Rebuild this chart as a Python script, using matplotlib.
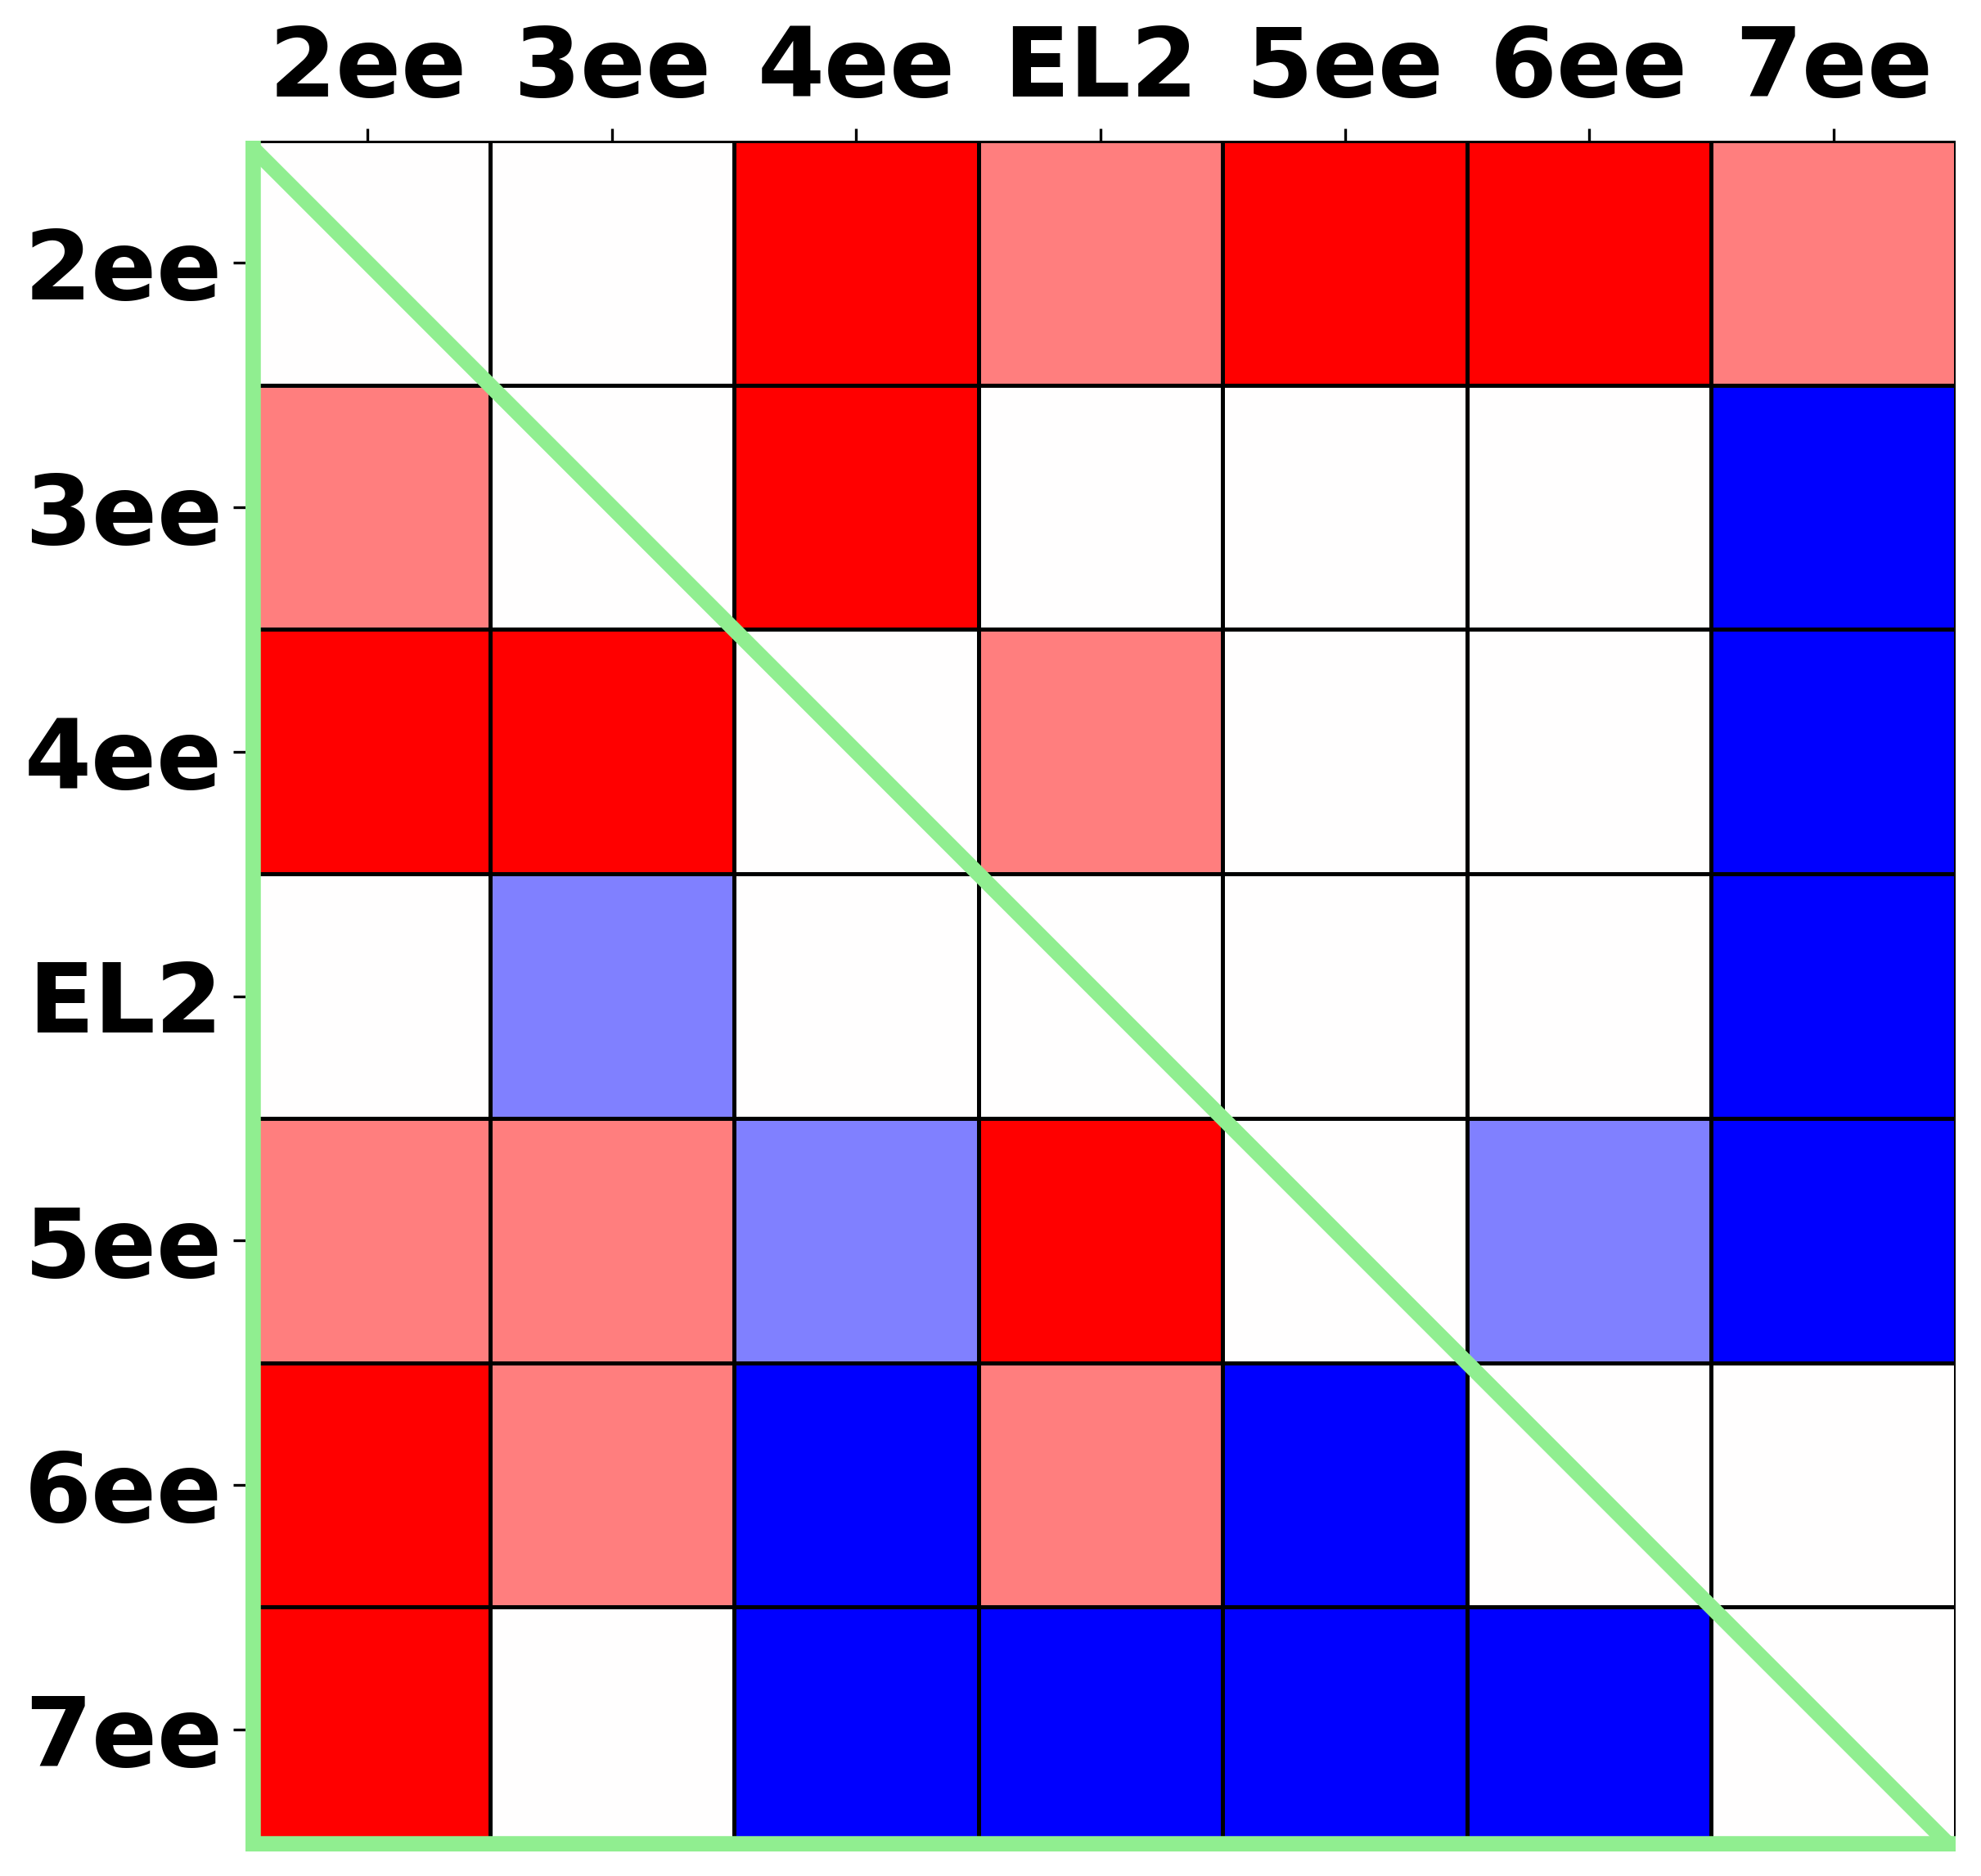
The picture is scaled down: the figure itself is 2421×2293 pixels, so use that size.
import numpy as np
import matplotlib
matplotlib.use("Agg")
import matplotlib.pyplot as plt

labels = ["2ee", "3ee", "4ee", "EL2", "5ee", "6ee", "7ee"]
row_2ee = [0, 0, 1, 0.5, 1, 1, 0.5]
row_3ee = [0.5, 0, 1, 0, 0, 0, -1]
row_4ee = [1, 1, 0, 0.5, 0, 0, -1]
row_EL2 = [0, -0.5, 0, 0, 0, 0, -1]
row_5ee = [0.5, 0.5, -0.5, 1, 0, -0.5, -1]
row_6ee = [1, 0.5, -1, 0.5, -1, 0, 0]
row_7ee = [1, 0, -1, -1, -1, -1, 0]

data = np.array([row_2ee, row_3ee, row_4ee, row_EL2, row_5ee, row_6ee, row_7ee])
n = len(labels)

W, H = 2421, 2293
dpi = 300
fig = plt.figure(figsize=(W / dpi, H / dpi), dpi=dpi)
l, r, t, b = 300, 2390, 172, 2263
ax = fig.add_axes([l / W, 1 - b / H, (r - l) / W, (b - t) / H])

ax.pcolormesh(np.arange(n + 1), np.arange(n + 1), data, cmap="bwr",
              vmin=-1, vmax=1, edgecolors="black", linewidth=0.8)
ax.set_xlim(0, n)
ax.set_ylim(n, 0)

green = "#90EE90"
gw = 4.5
# diagonal and the left / bottom borders (border lines are clipped to the axes,
# so only their inner half shows)
ax.plot([0, n], [0, n], color=green, lw=gw, solid_capstyle="butt", zorder=5)
ax.axvline(0, color=green, lw=2 * gw, zorder=5)
ax.axhline(n, color=green, lw=2 * gw, zorder=5)

for s in ax.spines.values():
    s.set_visible(False)

ax.xaxis.tick_top()
ax.set_xticks(np.arange(n) + 0.5)
ax.set_yticks(np.arange(n) + 0.5)
ax.set_xticklabels(labels, fontsize=28.3, fontweight="bold")
ax.set_yticklabels(labels, fontsize=28.3, fontweight="bold")
ax.tick_params(axis="x", length=3.5, width=0.8, pad=3.4)
ax.tick_params(axis="y", length=3.5, width=0.8, pad=3.2)

fig.savefig("out.png", dpi=dpi)
